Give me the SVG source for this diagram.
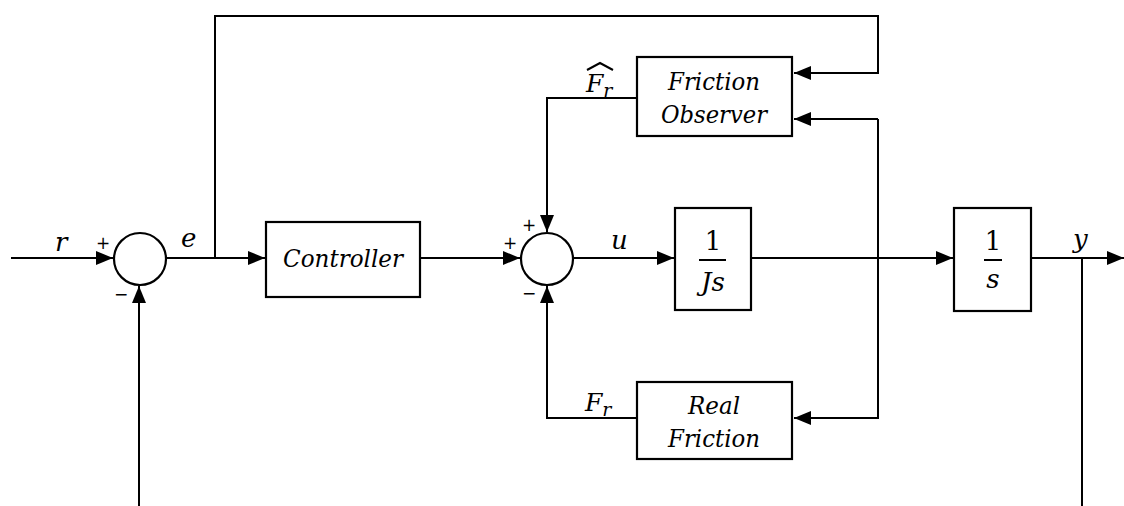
<svg xmlns="http://www.w3.org/2000/svg" width="1124" height="506" viewBox="0 0 1124 506">
<style>
.ln{fill:none;stroke:#000;stroke-width:2}
.bx{fill:#fff;stroke:#000;stroke-width:2.2}
.t{font-family:'DejaVu Serif','Liberation Serif',serif;font-style:italic;fill:#000}
.n{font-family:'DejaVu Serif','Liberation Serif',serif;fill:#000}
.s{font-family:'DejaVu Sans',sans-serif;fill:#000}
.bt{font-size:25px}
</style>
<defs>
<marker id="ah" markerUnits="userSpaceOnUse" markerWidth="18" markerHeight="14" refX="17" refY="7" orient="auto">
<path d="M0,0 L17,7 L0,14 z" fill="#000"/>
</marker>
</defs>
<rect width="1124" height="506" fill="#fff"/>
<g id="connectors">
<path class="ln" d="M11,258 L113,258" marker-end="url(#ah)"/>
<path class="ln" d="M166,258 L265,258" marker-end="url(#ah)"/>
<path class="ln" d="M215,258 L215,16 L878,16 L878,73 L794,73" marker-end="url(#ah)"/>
<path class="ln" d="M420,258 L520,258" marker-end="url(#ah)"/>
<path class="ln" d="M573,258 L674,258" marker-end="url(#ah)"/>
<path class="ln" d="M752,258 L953,258" marker-end="url(#ah)"/>
<path class="ln" d="M878,119 L794,119" marker-end="url(#ah)"/>
<path class="ln" d="M878,119 L878,418 L794,418" marker-end="url(#ah)"/>
<path class="ln" d="M637,98 L547,98 L547,232" marker-end="url(#ah)"/>
<path class="ln" d="M637,418 L547,418 L547,286" marker-end="url(#ah)"/>
<path class="ln" d="M139,506 L139,286" marker-end="url(#ah)"/>
<path class="ln" d="M1031,258 L1124,258" marker-end="url(#ah)"/>
<path class="ln" d="M1082,258 L1082,506"/>
</g>
<g id="sum1">
<circle class="bx" cx="140" cy="259" r="26"/>
<text class="s" x="96" y="249" style="font-size:17px">+</text>
<text class="s" x="114" y="300" style="font-size:17px">−</text>
</g>
<g id="controller">
<rect class="bx" x="266" y="222" width="154" height="75"/>
<text class="t bt" x="343" y="267" text-anchor="middle" textLength="120" lengthAdjust="spacingAndGlyphs">Controller</text>
</g>
<g id="sum2">
<circle class="bx" cx="547" cy="259" r="26"/>
<text class="s" x="503" y="249" style="font-size:17px">+</text>
<text class="s" x="522" y="231" style="font-size:17px">+</text>
<text class="s" x="522" y="299" style="font-size:17px">−</text>
</g>
<g id="plant-js">
<rect class="bx" x="675" y="208" width="76" height="102"/>
<text class="n" x="713" y="250" text-anchor="middle" style="font-size:26px">1</text>
<path class="ln" d="M699,260 L726,260" stroke-width="2.5"/>
<text class="t" x="713" y="291" text-anchor="middle" style="font-size:26px">Js</text>
</g>
<g id="integrator">
<rect class="bx" x="954" y="208" width="77" height="103"/>
<text class="n" x="993" y="250" text-anchor="middle" style="font-size:26px">1</text>
<path class="ln" d="M984,260 L1002,260" stroke-width="2.5"/>
<text class="t" x="993" y="288" text-anchor="middle" style="font-size:26px">s</text>
</g>
<g id="friction-observer">
<rect class="bx" x="637" y="57" width="155" height="79"/>
<text class="t bt" x="714" y="90" text-anchor="middle" textLength="92" lengthAdjust="spacingAndGlyphs">Friction</text>
<text class="t bt" x="714" y="123" text-anchor="middle" textLength="106" lengthAdjust="spacingAndGlyphs">Observer</text>
</g>
<g id="real-friction">
<rect class="bx" x="637" y="382" width="155" height="77"/>
<text class="t bt" x="714" y="414" text-anchor="middle" textLength="52" lengthAdjust="spacingAndGlyphs">Real</text>
<text class="t bt" x="714" y="447" text-anchor="middle" textLength="92" lengthAdjust="spacingAndGlyphs">Friction</text>
</g>
<g id="labels">
<text class="t" x="55" y="251" style="font-size:26px">r</text>
<text class="t" x="181" y="247" style="font-size:26px">e</text>
<text class="t" x="611" y="249" style="font-size:26px">u</text>
<text class="t" x="1073" y="248" style="font-size:26px">y</text>
<text class="t" x="586" y="92" style="font-size:25px">F<tspan style="font-size:19px" dy="5">r</tspan></text>
<path class="ln" d="M587,70 L600,63 L613,70" stroke-width="1.5"/>
<text class="t" x="585" y="411" style="font-size:25px">F<tspan style="font-size:19px" dy="5">r</tspan></text>
</g>
</svg>
